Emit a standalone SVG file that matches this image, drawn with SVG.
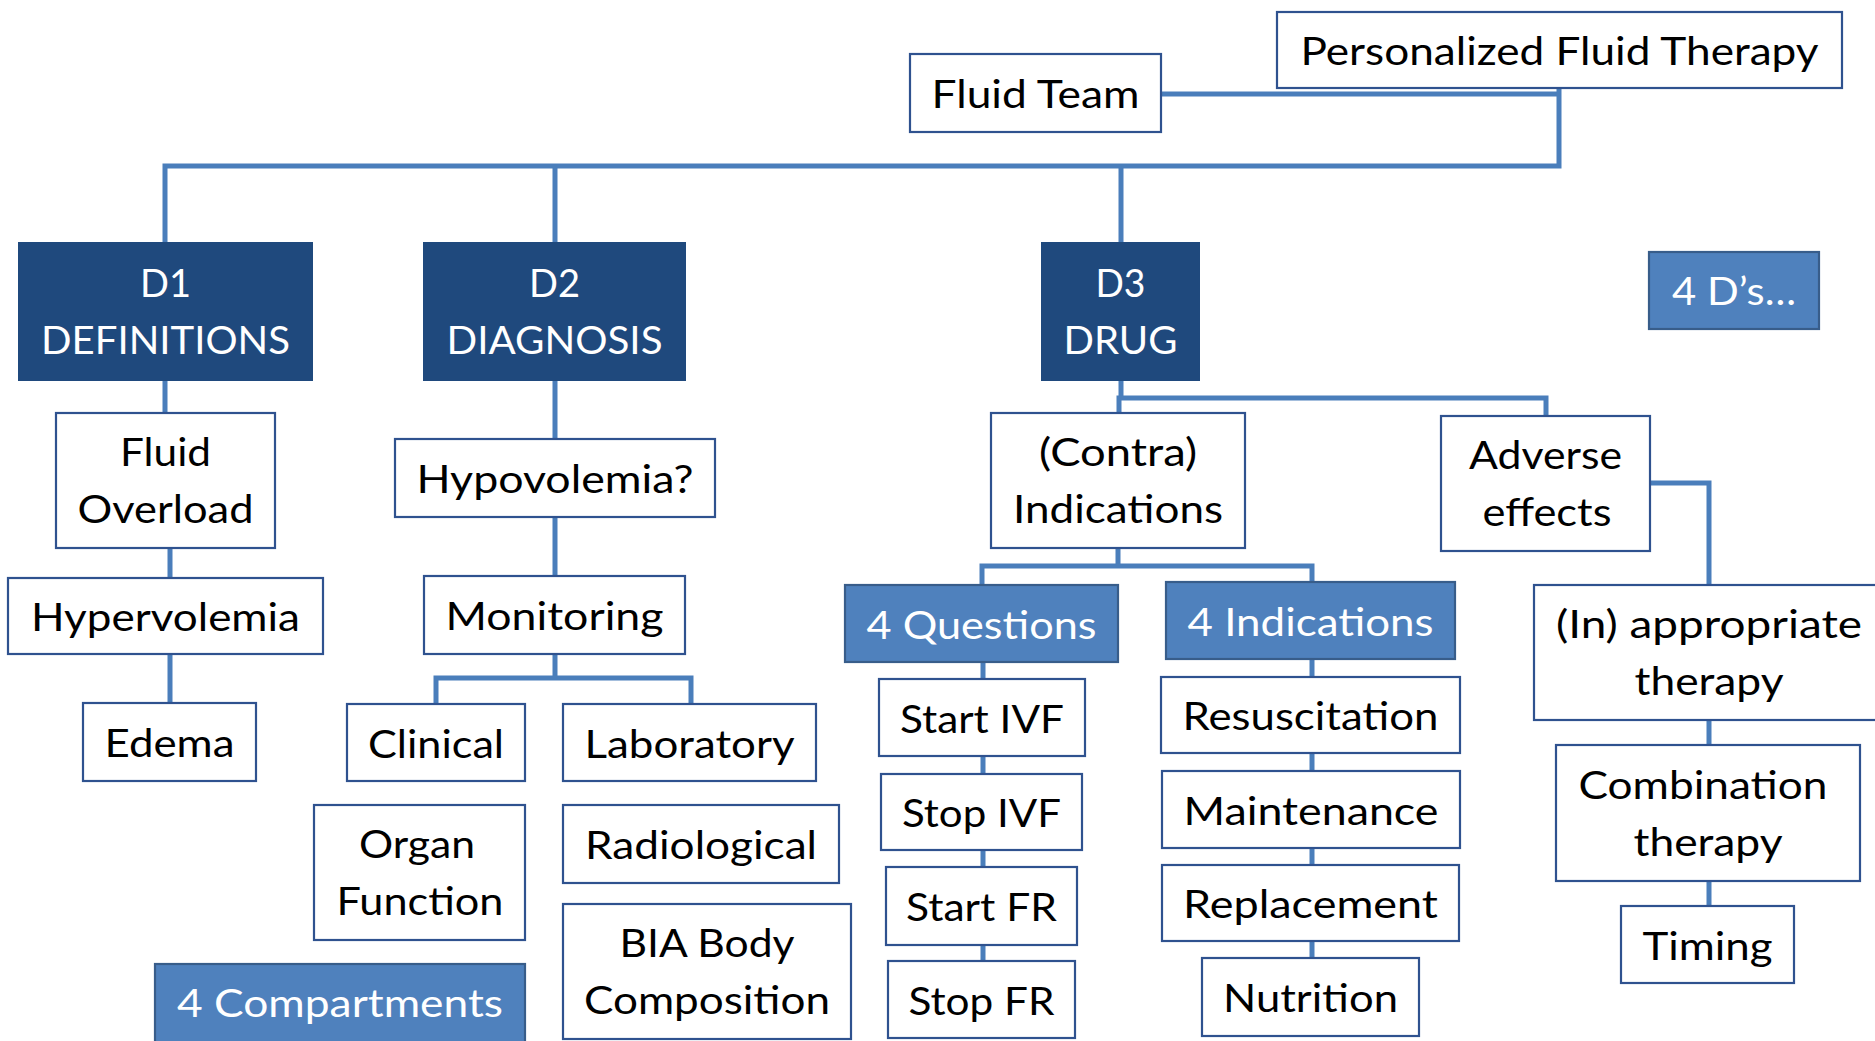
<svg xmlns="http://www.w3.org/2000/svg" width="1875" height="1041" viewBox="0 0 1875 1041">
<style>
.b{fill:#ffffff;stroke:#2f528f;stroke-width:2.2}
.dk{fill:#1f497d;stroke:#1f497d;stroke-width:2}
.md{fill:#4f81bd;stroke:#385d8a;stroke-width:2.2}
text{font-family:Lato,"Open Sans","Liberation Sans",sans-serif;font-size:38px;text-anchor:middle;fill:#000000}
.w{fill:#ffffff}
.c{fill:none;stroke:#4a7ebb;stroke-width:5;stroke-linejoin:miter;stroke-linecap:square}
</style>
<rect width="1875" height="1041" fill="#ffffff"/>
<g id="connectors">
<path class="c" d="M1161,94 H1559 M1559,88 V166 H165 M165,166 V243 M555,166 V243 M1121,166 V243"/>
<path class="c" d="M165,380 V413 M170,548 V578 M170,654 V703"/>
<path class="c" d="M555,380 V439 M555,517 V576 M555,654 V678 M436,704 V678 H691 V704"/>
<path class="c" d="M1121,380 V398 H1546 V416 M1119,398 V413"/>
<path class="c" d="M1650,483 H1709 V585 M1709,720 V745 M1709,881 V906"/>
<path class="c" d="M1118,548 V566 M982,585 V566 H1312 V582"/>
<path class="c" d="M983,662 V679 M983,756 V774 M983,850 V867 M983,945 V961"/>
<path class="c" d="M1312,659 V677 M1312,753 V771 M1312,848 V865 M1312,941 V958"/>
</g>
<g id="pft"><rect class="b" x="1277" y="12" width="565" height="76"/><text x="1559.5" y="65" textLength="518" lengthAdjust="spacingAndGlyphs">Personalized Fluid Therapy</text></g>
<g id="team"><rect class="b" x="910" y="54" width="251" height="78"/><text x="1035.5" y="108" textLength="208" lengthAdjust="spacingAndGlyphs">Fluid Team</text></g>
<g id="d1"><rect class="dk" x="19" y="243" width="293" height="137"/><text class="w" x="165.5" y="297" textLength="51" lengthAdjust="spacingAndGlyphs">D1</text><text class="w" x="165.5" y="354" textLength="249" lengthAdjust="spacingAndGlyphs">DEFINITIONS</text></g>
<g id="d2"><rect class="dk" x="424" y="243" width="261" height="137"/><text class="w" x="554.5" y="297" textLength="51" lengthAdjust="spacingAndGlyphs">D2</text><text class="w" x="554.5" y="354" textLength="216" lengthAdjust="spacingAndGlyphs">DIAGNOSIS</text></g>
<g id="d3"><rect class="dk" x="1042" y="243" width="157" height="137"/><text class="w" x="1120.5" y="297" textLength="50" lengthAdjust="spacingAndGlyphs">D3</text><text class="w" x="1120.5" y="354" textLength="114" lengthAdjust="spacingAndGlyphs">DRUG</text></g>
<g id="fourDs"><rect class="md" x="1649" y="252" width="170" height="77"/><text class="w" x="1734" y="305" textLength="124" lengthAdjust="spacingAndGlyphs">4 D’s…</text></g>
<g id="overload"><rect class="b" x="56" y="413" width="219" height="135"/><text x="165.5" y="466" textLength="91" lengthAdjust="spacingAndGlyphs">Fluid</text><text x="165.5" y="523" textLength="176" lengthAdjust="spacingAndGlyphs">Overload</text></g>
<g id="hypervolemia"><rect class="b" x="8" y="578" width="315" height="76"/><text x="165.5" y="631" textLength="269" lengthAdjust="spacingAndGlyphs">Hypervolemia</text></g>
<g id="edema"><rect class="b" x="83" y="703" width="173" height="78"/><text x="169.5" y="757" textLength="130" lengthAdjust="spacingAndGlyphs">Edema</text></g>
<g id="hypovolemia"><rect class="b" x="395" y="439" width="320" height="78"/><text x="555" y="493" textLength="277" lengthAdjust="spacingAndGlyphs">Hypovolemia?</text></g>
<g id="monitoring"><rect class="b" x="424" y="576" width="261" height="78"/><text x="554.5" y="630" textLength="218" lengthAdjust="spacingAndGlyphs">Monitoring</text></g>
<g id="clinical"><rect class="b" x="347" y="704" width="178" height="77"/><text x="436" y="757.5" textLength="136" lengthAdjust="spacingAndGlyphs">Clinical</text></g>
<g id="laboratory"><rect class="b" x="563" y="704" width="253" height="77"/><text x="689.5" y="757.5" textLength="210" lengthAdjust="spacingAndGlyphs">Laboratory</text></g>
<g id="organ"><rect class="b" x="314" y="805" width="211" height="135"/><text x="417" y="858" textLength="116" lengthAdjust="spacingAndGlyphs">Organ</text><text x="420" y="915" textLength="167" lengthAdjust="spacingAndGlyphs">Function</text></g>
<g id="radiological"><rect class="b" x="563" y="805" width="276" height="78"/><text x="701" y="859" textLength="232" lengthAdjust="spacingAndGlyphs">Radiological</text></g>
<g id="bia"><rect class="b" x="563" y="904" width="288" height="135"/><text x="707" y="957" textLength="175" lengthAdjust="spacingAndGlyphs">BIA Body</text><text x="707" y="1014" textLength="246" lengthAdjust="spacingAndGlyphs">Composition</text></g>
<g id="compartments"><rect class="md" x="155" y="964" width="370" height="80"/><text class="w" x="340" y="1017" textLength="326" lengthAdjust="spacingAndGlyphs">4 Compartments</text></g>
<g id="contra"><rect class="b" x="991" y="413" width="254" height="135"/><text x="1118" y="466" textLength="158" lengthAdjust="spacingAndGlyphs">(Contra)</text><text x="1118" y="523" textLength="210" lengthAdjust="spacingAndGlyphs">Indications</text></g>
<g id="adverse"><rect class="b" x="1441" y="416" width="209" height="135"/><text x="1545.5" y="469" textLength="153" lengthAdjust="spacingAndGlyphs">Adverse</text><text x="1547" y="526" textLength="129" lengthAdjust="spacingAndGlyphs">effects</text></g>
<g id="inappropriate"><rect class="b" x="1534" y="585" width="346" height="135"/><text x="1709" y="638" textLength="306" lengthAdjust="spacingAndGlyphs">(In) appropriate</text><text x="1709" y="695" textLength="149" lengthAdjust="spacingAndGlyphs">therapy</text></g>
<g id="combination"><rect class="b" x="1556" y="745" width="304" height="136"/><text x="1703" y="799" textLength="249" lengthAdjust="spacingAndGlyphs">Combination</text><text x="1708" y="856" textLength="149" lengthAdjust="spacingAndGlyphs">therapy</text></g>
<g id="timing"><rect class="b" x="1621" y="906" width="173" height="77"/><text x="1707.5" y="959.5" textLength="130" lengthAdjust="spacingAndGlyphs">Timing</text></g>
<g id="questions"><rect class="md" x="845" y="585" width="273" height="77"/><text class="w" x="981.5" y="638.5" textLength="230" lengthAdjust="spacingAndGlyphs">4 Questions</text></g>
<g id="indications"><rect class="md" x="1166" y="582" width="289" height="77"/><text class="w" x="1310.5" y="635.5" textLength="246" lengthAdjust="spacingAndGlyphs">4 Indications</text></g>
<g id="startivf"><rect class="b" x="879" y="679" width="206" height="77"/><text x="982" y="732.5" textLength="164" lengthAdjust="spacingAndGlyphs">Start IVF</text></g>
<g id="stopivf"><rect class="b" x="881" y="774" width="201" height="76"/><text x="981.5" y="827" textLength="159" lengthAdjust="spacingAndGlyphs">Stop IVF</text></g>
<g id="startfr"><rect class="b" x="886" y="867" width="191" height="78"/><text x="981.5" y="921" textLength="151" lengthAdjust="spacingAndGlyphs">Start FR</text></g>
<g id="stopfr"><rect class="b" x="888" y="961" width="187" height="77"/><text x="981.5" y="1014.5" textLength="146" lengthAdjust="spacingAndGlyphs">Stop FR</text></g>
<g id="resuscitation"><rect class="b" x="1161" y="677" width="299" height="76"/><text x="1310.5" y="730" textLength="256" lengthAdjust="spacingAndGlyphs">Resuscitation</text></g>
<g id="maintenance"><rect class="b" x="1162" y="771" width="298" height="77"/><text x="1311" y="824.5" textLength="255" lengthAdjust="spacingAndGlyphs">Maintenance</text></g>
<g id="replacement"><rect class="b" x="1162" y="865" width="297" height="76"/><text x="1310.5" y="918" textLength="255" lengthAdjust="spacingAndGlyphs">Replacement</text></g>
<g id="nutrition"><rect class="b" x="1202" y="958" width="217" height="78"/><text x="1310.5" y="1012" textLength="175" lengthAdjust="spacingAndGlyphs">Nutrition</text></g>
</svg>
